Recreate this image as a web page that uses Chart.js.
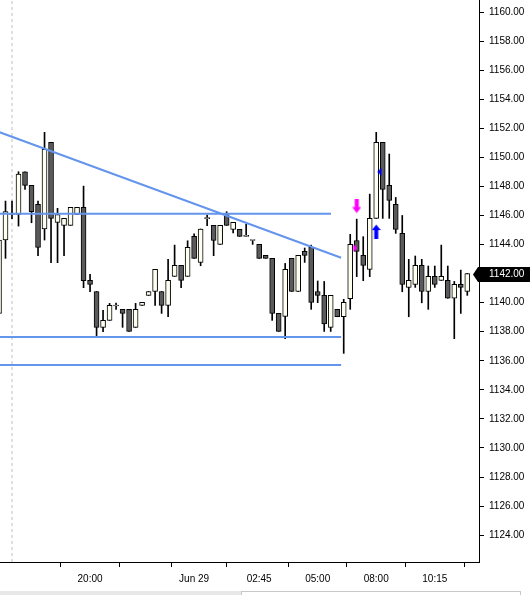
<!DOCTYPE html>
<html>
<head>
<meta charset="utf-8">
<script src="https://cdn.jsdelivr.net/npm/chart.js@4.4.1/dist/chart.umd.min.js"></script>
<style>
  html, body { margin: 0; padding: 0; background: #fff; }
</style>
</head>
<body>
<canvas id="chart" width="530" height="595"></canvas>
<script>
// candle values, one entry per bar
const opens = [1139.26, 1144.31, 1146.07, 1146.07, 1149.01, 1148.07, 1146.76, 1145.07, 1151.03, 1145.52,
  1145.32, 1145.32, 1146.07, 1146.56, 1141.53, 1140.77, 1138.30, 1138.78, 1139.77, 1139.54,
  1139.54, 1138.30, 1139.81, 1140.50, 1140.77, 1140.77, 1139.81, 1141.81, 1142.57, 1141.81,
  1144.56, 1142.77, 1145.78, 1145.32, 1144.01, 1146.07, 1145.04, 1145.04, 1144.56, 1144.28,
  1144.01, 1143.25, 1143.05, 1139.26, 1139.05, 1143.05, 1140.77, 1143.53, 1143.80, 1140.77,
  1140.50, 1138.30, 1139.54, 1139.03, 1140.27, 1144.28, 1143.25, 1142.29, 1145.80, 1151.03,
  1148.07, 1146.76, 1144.77, 1141.05, 1141.26, 1142.57, 1140.77, 1141.81, 1141.53, 1141.53,
  1140.30, 1141.26, 1140.77];
const highs = [1144.31, 1146.99, 1146.99, 1149.01, 1149.01, 1148.07, 1146.99, 1151.72, 1151.03, 1146.49,
  1145.80, 1146.56, 1146.56, 1148.02, 1141.95, 1140.77, 1139.47, 1139.95, 1139.97, 1139.54,
  1139.54, 1139.95, 1140.02, 1140.77, 1142.29, 1140.77, 1142.98, 1143.96, 1142.57, 1144.26,
  1144.74, 1145.07, 1146.03, 1145.32, 1145.32, 1146.26, 1145.52, 1145.04, 1145.39, 1144.28,
  1144.01, 1143.25, 1143.05, 1139.26, 1142.70, 1143.05, 1143.25, 1143.76, 1143.96, 1141.49,
  1141.46, 1140.50, 1139.54, 1140.23, 1144.70, 1145.75, 1144.54, 1147.47, 1151.72, 1151.03,
  1150.23, 1147.24, 1146.00, 1142.98, 1143.21, 1142.98, 1142.52, 1142.52, 1143.96, 1142.52,
  1141.46, 1142.24, 1142.01];
const lows = [1139.26, 1143.05, 1145.78, 1145.27, 1147.80, 1145.50, 1143.23, 1144.31, 1142.75, 1142.75,
  1143.23, 1145.32, 1146.07, 1141.03, 1140.75, 1137.73, 1138.00, 1138.78, 1139.54, 1138.30,
  1138.02, 1138.30, 1139.81, 1140.50, 1139.81, 1139.26, 1139.03, 1141.81, 1141.03, 1141.81,
  1143.05, 1142.54, 1145.29, 1143.23, 1144.01, 1145.32, 1144.80, 1144.56, 1144.56, 1144.01,
  1143.05, 1143.05, 1138.78, 1138.02, 1137.52, 1140.77, 1140.77, 1142.77, 1139.54, 1140.00,
  1138.02, 1138.02, 1139.03, 1136.51, 1139.54, 1141.79, 1141.51, 1141.79, 1145.80, 1145.80,
  1145.80, 1144.77, 1140.75, 1139.03, 1141.05, 1139.99, 1139.54, 1141.05, 1141.53, 1140.30,
  1137.52, 1139.26, 1140.50];
const closes = [1144.31, 1146.26, 1146.07, 1148.85, 1148.07, 1146.26, 1143.80, 1150.55, 1145.80, 1146.07,
  1145.80, 1146.56, 1146.56, 1141.51, 1141.26, 1138.30, 1138.78, 1139.81, 1139.77, 1139.26,
  1138.02, 1139.54, 1140.02, 1140.77, 1142.29, 1139.81, 1141.53, 1142.57, 1141.53, 1143.80,
  1143.05, 1145.07, 1145.78, 1144.28, 1145.32, 1145.32, 1145.52, 1144.56, 1144.56, 1144.28,
  1143.05, 1143.05, 1139.26, 1138.02, 1142.29, 1140.77, 1143.25, 1143.25, 1140.02, 1140.50,
  1138.53, 1140.50, 1139.03, 1140.02, 1144.01, 1143.53, 1142.57, 1145.80, 1151.03, 1147.80,
  1147.04, 1145.04, 1141.26, 1141.53, 1142.57, 1140.77, 1141.81, 1141.26, 1141.81, 1140.30,
  1141.26, 1141.05, 1142.00];

// time axis: bar index of each tick and its text
const xTickIdx = [14, 23, 30, 40, 49, 58, 67];
const xTickLabels = ['20:00', '', 'Jun 29', '02:45', '05:00', '08:00', '10:15'];
const yTicks = [1124, 1126, 1128, 1130, 1132, 1134, 1136, 1138, 1140, 1142,
  1144, 1146, 1148, 1150, 1152, 1154, 1156, 1158, 1160];

// session break (dashed) at this bar
const sessionBreak = 2;

// drawn trend lines: [start, end] in bar index / price
const trendX = [[-1, 52.6], [-1, 51.05], [-1, 52.6], [-1, 52.6]];
const trendY = [[1151.91, 1143.09], [1146.12, 1146.12], [1137.63, 1137.63], [1135.71, 1135.71]];

// signal markers
const markerX = [55, 55, 58, 59];
const markerY = [1146.65, 1143.76, 1144.89, 1149.01];
const markerKind = ['down', 'right', 'up', 'left'];

const FONT = "'Liberation Sans', Arial, sans-serif";
const UP_FILL = '#fffff0';
const DOWN_FILL = '#5a5a5a';
const LINE_BLUE = '#6495ed';

function makeMarker(kind) {
  const c = document.createElement('canvas');
  const g = c.getContext('2d');
  if (kind === 'down' || kind === 'up') {
    c.width = 9; c.height = 15;
    g.fillStyle = kind === 'down' ? '#ff00ff' : '#0000ff';
    g.beginPath();
    if (kind === 'down') {
      g.rect(2.5, 0, 4, 8.5);
      g.moveTo(0, 8.5); g.lineTo(9, 8.5); g.lineTo(4.5, 14.5);
    } else {
      g.moveTo(4.5, 0.5); g.lineTo(9, 6); g.lineTo(0, 6);
      g.rect(2.5, 6, 4, 9);
    }
    g.fill();
  } else {
    c.width = 12; c.height = 8;
    g.beginPath();
    if (kind === 'right') {
      g.fillStyle = '#ff00ff';
      g.moveTo(2.5, 0); g.lineTo(6.5, 4); g.lineTo(2.5, 8);
    } else {
      g.fillStyle = '#0000ff';
      g.moveTo(0.5, 4); g.lineTo(4.7, 0); g.lineTo(4.7, 8);
    }
    g.closePath();
    g.fill();
  }
  return c;
}

const wickData = highs.map((h, i) => ({x: i, y: [lows[i], h]}));
const bodyData = opens.map((o, i) => ({x: i, y: [Math.min(o, closes[i]), Math.max(o, closes[i])]}));
const bodyColors = opens.map((o, i) => closes[i] >= o ? UP_FILL : DOWN_FILL);

const trendSets = trendX.map((xs, k) => ({
  type: 'line',
  data: xs.map((x, j) => ({x: x, y: trendY[k][j]})),
  borderColor: LINE_BLUE,
  borderWidth: 2,
  pointRadius: 0,
  clip: 0
}));

const yMin = 1122.15, yMax = 1160.83;

// black price tag on the axis and the strip under the chart
const priceTag = {
  id: 'priceTag',
  afterDraw(chart) {
    const ctx = chart.ctx;
    const area = chart.chartArea;
    const y = Math.round(chart.scales.y.getPixelForValue(closes[closes.length - 1])) + 0.5;
    ctx.save();
    ctx.fillStyle = '#000';
    ctx.beginPath();
    ctx.moveTo(area.right - 6, y);
    ctx.lineTo(area.right - 1, y - 7.5);
    ctx.lineTo(530, y - 7.5);
    ctx.lineTo(530, y + 7.5);
    ctx.lineTo(area.right - 1, y + 7.5);
    ctx.closePath();
    ctx.fill();
    ctx.fillStyle = '#fff';
    ctx.font = '10px ' + FONT;
    ctx.textBaseline = 'middle';
    ctx.fillText(closes[closes.length - 1].toFixed(2), area.right + 10, y);

    ctx.fillStyle = '#e8e8e8';
    ctx.fillRect(0, 591, 241, 4);
    ctx.strokeStyle = '#c8c8c8';
    ctx.lineWidth = 1;
    ctx.strokeRect(241.5, 591.5, 279, 8);
    ctx.restore();
  }
};

new Chart(document.getElementById('chart'), {
  type: 'bar',
  data: {
    datasets: [
      {
        type: 'line',
        data: markerX.map((x, i) => ({x: x, y: markerY[i]})),
        showLine: false,
        pointStyle: markerKind.map(makeMarker),
        pointRadius: 5,
        clip: 0
      },
      ...trendSets,
      {
        data: bodyData,
        backgroundColor: bodyColors,
        borderColor: '#000',
        borderWidth: 1,
        borderSkipped: false,
        barThickness: 5,
        minBarLength: 1,
        grouped: false,
        clip: 0
      },
      {
        data: wickData,
        backgroundColor: '#000',
        borderWidth: 0,
        barThickness: 1,
        grouped: false,
        clip: 0
      },
      {
        type: 'line',
        data: [{x: sessionBreak, y: yMin}, {x: sessionBreak, y: yMax}],
        borderColor: '#c0c0c0',
        borderWidth: 1,
        borderDash: [3, 3],
        pointRadius: 0,
        clip: 0
      }
    ]
  },
  options: {
    responsive: false,
    animation: false,
    events: [],
    layout: { padding: 0, autoPadding: false },
    plugins: {
      legend: { display: false },
      tooltip: { enabled: false }
    },
    scales: {
      x: {
        type: 'linear',
        min: 0.154,
        max: 73.8,
        offset: false,
        grid: { drawOnChartArea: false, tickLength: 5, color: '#000' },
        border: { color: '#000', width: 1 },
        ticks: {
          autoSkip: false,
          maxRotation: 0,
          padding: 6,
          color: '#000',
          font: { family: FONT, size: 10 },
          callback: (v) => xTickLabels[xTickIdx.indexOf(v)]
        },
        afterBuildTicks: (s) => { s.ticks = xTickIdx.map(v => ({value: v})); },
        afterFit: (s) => { s.height = 33; s.paddingLeft = 0; s.paddingRight = 0; }
      },
      y: {
        position: 'right',
        min: yMin,
        max: yMax,
        grid: { drawOnChartArea: false, tickLength: 5, color: '#000' },
        border: { color: '#000', width: 1 },
        ticks: {
          padding: 5,
          color: '#000',
          font: { family: FONT, size: 10 },
          callback: (v) => Number(v).toFixed(2)
        },
        afterBuildTicks: (s) => { s.ticks = yTicks.map(v => ({value: v})); },
        afterFit: (s) => { s.width = 51; s.paddingTop = 0; s.paddingBottom = 0; }
      }
    }
  },
  plugins: [priceTag]
});
</script>
</body>
</html>
